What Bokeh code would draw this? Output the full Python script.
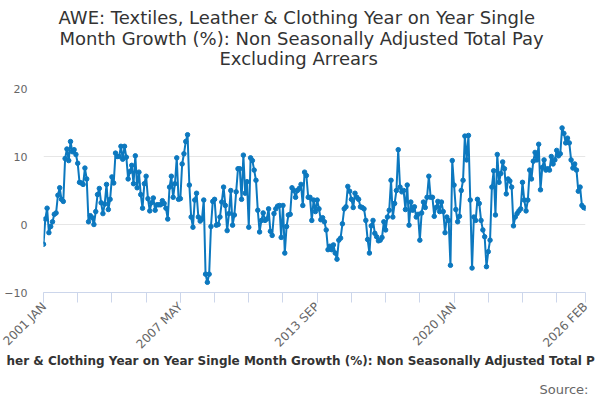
from math import pi
from bokeh.plotting import figure
from bokeh.models import Range1d, FixedTicker, Title, ColumnDataSource
from bokeh.embed import file_html
from bokeh.resources import INLINE

title_lines = ["AWE: Textiles, Leather & Clothing Year on Year Single",
               "Month Growth (%): Non Seasonally Adjusted Total Pay",
               "Excluding Arrears"]
caption_visible = "her & Clothing Year on Year Single Month Growth (%): Non Seasonally Adjusted Total P"
source_text = "Source:"

MONTH_NAMES = ["JAN", "FEB", "MAR", "APR", "MAY", "JUN",
               "JUL", "AUG", "SEP", "OCT", "NOV", "DEC"]
start_year = 2001

vals_2001_2009 = [
    -2.9, 0.8, 2.4, -1.2, -0.3, 0.4, 1.5, 1.7, 4.3, 5.4,
    3.7, 3.4, 9.7, 11.1, 9.4, 12.2, 10.7, 11.0, 10.3, 9.0,
    6.2, 6.1, 5.9, 8.3, 6.7, 0.4, 1.3, 1.0, 0.0, 1.9,
    4.4, 5.3, 3.2, 1.6, 3.0, 5.9, 2.2, 3.7, 7.0, 6.1,
    10.5, 10.0, 10.0, 11.5, 9.6, 11.5, 9.9, 6.7, 7.8, 8.7,
    6.0, 10.1, 5.4, 7.7, 4.4, 2.4, 6.0, 7.1, 3.8, 2.0,
    3.2, 3.9, 2.1, 2.9, 2.9, 2.9, 3.5, 3.1, 2.4, 0.8,
    5.5, 7.1, 4.0, 6.0, 9.8, 3.7, 3.8, 8.9, 10.4, 12.2,
    13.2, 5.8, 1.1, -0.4, 3.6, 4.6, 1.1, 0.5, 0.8, 3.6,
    -7.3, -8.5, -7.3, -0.3, 3.4, 3.7, -0.1, 0.0, 1.1, 3.3,
    5.5]
vals_2009_2013 = [
    2.8, -0.9, 1.6, 5.0, -0.1, 1.4, 4.8, 8.2, 8.2, 3.7,
    10.2, 4.6, 6.3, -0.4, 9.8, 9.4, 8.0, 6.5, 2.1, -1.1,
    0.6, 1.7, 0.6, 0.8, 2.3, -1.0, -1.6, 1.6, 2.3, 2.7,
    2.8, -1.9, 2.8, -4.2, -0.3, 1.4, 1.5, 5.4, 5.0, 4.0,
    5.0, 5.3, 5.9, 2.8, 7.7, 7.2, 4.0, 4.0, 0.6]
vals_2013_2017 = [
    3.6, 1.9, 3.6, 2.3, 0.7, 1.0, 0.4, -0.8, -3.7, -3.2,
    -3.7, -3.0, -4.2, -5.1, -2.3, -2.0, 0.1, 2.3, 2.6, 5.6,
    4.9, 3.7, 2.5, 4.6, 4.0, 3.7, 2.6, 2.5, 2.3, 0.6,
    -2.2, -4.2, -0.2, 0.6, -1.3, -1.8, -2.4, -2.3, -1.9, 0.4,
    -0.8, 1.1, 2.1, 6.5, 1.1, 3.1, 5.0, 11.0, 5.5, 4.8]
vals_2017_2021 = [
    5.0, 2.2, 5.8, -0.1, 3.3, 2.1, 2.6, 1.1, 1.5, -2.3,
    1.7, 3.3, 2.5, 4.0, 7.1, 4.0, 4.0, 1.2, 2.5, 3.4,
    1.9, 3.3, 1.9, -1.2, 1.1, 0.6, -6.0, 9.4, 5.8, 2.2,
    0.4, 1.2, 5.0, 6.5, 13.0, 9.5, 13.1, 3.6, -6.4, 1.1,
    0.6, 3.7, 3.1, 0.6, -0.8, -1.8, -6.2, -4.0, -2.3, 5.5]
vals_2021_2026 = [
    7.9, 1.4, 10.3, 6.2, 7.5, 9.2, 8.2, 4.5, 6.7, 6.4,
    5.5, -0.2, 1.1, 1.6, 2.0, 2.3, 6.2, 3.6, 2.0, 3.6,
    8.0, 6.7, 9.3, 10.6, 9.5, 11.8, 5.1, 8.4, 9.5, 8.0,
    8.2, 8.0, 10.0, 8.9, 9.5, 10.9, 10.1, 10.4, 14.2, 13.4,
    12.0, 12.7, 12.0, 9.5, 8.3, 8.9, 8.0, 4.9, 5.5, 2.8,
    2.5, 2.4]

values = vals_2001_2009 + vals_2009_2013 + vals_2013_2017 + vals_2017_2021 + vals_2021_2026
assert len(values) == 302, len(values)

months = [f"{start_year + i // 12} {MONTH_NAMES[i % 12]}" for i in range(len(values))]
tick_labels = ["2001 JAN", "2007 MAY", "2013 SEP", "2020 JAN", "2026 FEB"]
y_ticks = [-10, 0, 10, 20]

tick_pos = [months.index(t) for t in tick_labels]
minor_pos = list(range(0, len(values), 19))

COLOR = "#0c78bf"
src = ColumnDataSource(dict(x=list(range(len(values))), y=values, month=months))

p = figure(width=600, height=400, output_backend="svg", toolbar_location=None,
           x_range=Range1d(0, len(values) - 1), y_range=Range1d(-10, 20),
           min_border_left=43, min_border_right=15, min_border_top=88,
           min_border_bottom=108)
p.title.visible = False
p.outline_line_color = None
p.background_fill_color = "white"
p.border_fill_color = "white"

p.line("x", "y", source=src, line_color=COLOR, line_width=2)
p.scatter("x", "y", source=src, size=4.5, fill_color=COLOR, line_color=COLOR)

p.xgrid.visible = False
p.ygrid.grid_line_color = "#e6e6e6"
p.ygrid.ticker = FixedTicker(ticks=y_ticks)

yax = p.yaxis[0]
yax.ticker = FixedTicker(ticks=y_ticks)
yax.axis_line_color = None
yax.major_tick_line_color = None
yax.minor_tick_line_color = None
yax.major_tick_out = 0
yax.major_tick_in = 0
yax.minor_tick_out = 0
yax.minor_tick_in = 0
yax.major_label_standoff = 16
yax.major_label_text_font = "DejaVu Sans"
yax.major_label_text_font_size = "11px"
yax.major_label_text_color = "#666666"

xax = p.xaxis[0]
xax.ticker = FixedTicker(ticks=tick_pos, minor_ticks=minor_pos)
xax.major_label_overrides = {pos: lab for pos, lab in zip(tick_pos, tick_labels)}
xax.axis_line_color = "#ccd6eb"
xax.major_tick_line_color = "#ccd6eb"
xax.minor_tick_line_color = "#ccd6eb"
xax.major_tick_in = 0
xax.major_tick_out = 10
xax.minor_tick_in = 0
xax.minor_tick_out = 10
xax.major_label_orientation = pi / 4
xax.major_label_standoff = 2
xax.major_label_text_font = "DejaVu Sans"
xax.major_label_text_font_size = "12px"
xax.major_label_text_color = "#666666"

# spacer between the plot area and the title block
p.add_layout(Title(text=" ", text_font_size="1px", standoff=19), "above")
# title lines, added from the one nearest the plot outwards
title_offsets = [15, 16, 176]
title_standoffs = [0, -3, -4]
for line, off, so in reversed(list(zip(title_lines, title_offsets, title_standoffs))):
    p.add_layout(Title(text=line, align="left", text_font="DejaVu Sans",
                       text_font_size="18px", text_font_style="normal",
                       text_color="#333333", offset=off, standoff=so), "above")

p.add_layout(Title(text=caption_visible, align="left", text_font="DejaVu Sans",
                   text_font_size="12px", text_font_style="bold",
                   text_color="#333333", offset=-37, standoff=-17), "below")
p.add_layout(Title(text=" ", text_font_size="1px", standoff=17), "below")
p.add_layout(Title(text=source_text, align="right", text_font="DejaVu Sans",
                   text_font_size="13px", text_font_style="normal",
                   text_color="#666666", offset=-3, standoff=0), "below")

open("out.html", "w").write(file_html(p, INLINE))
